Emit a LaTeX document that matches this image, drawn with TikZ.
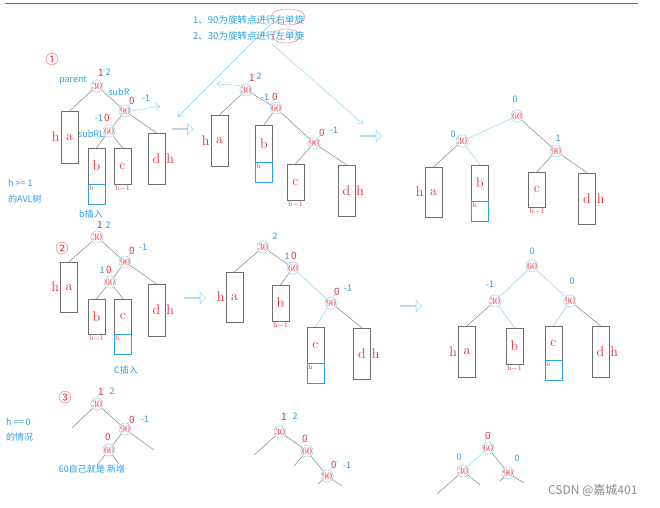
\documentclass[tikz,border=0pt]{standalone}
\usepackage{fontspec}
\newfontfamily\cjk{Noto Sans CJK SC}
\usetikzlibrary{arrows.meta,shapes.arrows,shapes.misc}
\definecolor{hblau}{RGB}{40,160,225}
\definecolor{kblau}{RGB}{130,200,240}
\definecolor{rot}{RGB}{238,45,55}
\definecolor{grau}{RGB}{110,110,110}

\begin{document}
\begin{tikzpicture}[x={(1pt,0)},y={(0,-1pt)},>={Straight Barb[length=4pt,width=7pt]},
  k/.style={circle,draw=kblau,text=rot,inner sep=0pt,minimum size=12pt,font=\fontsize{10}{10}\selectfont},
  kasten/.style={draw=grau,minimum width=17pt,inner sep=0pt,text=rot,font=\fontsize{14}{14}\selectfont},
  hk/.style={draw=hblau,minimum width=17pt,minimum height=20pt,inner sep=0pt,anchor=north},
  hs/.style={text=rot,inner sep=1pt,font=\fontsize{7}{7}\selectfont},
  bt/.style={text=hblau,inner sep=0pt,font=\cjk\fontsize{9}{10}\selectfont},
  rz/.style={text=rot,inner sep=0pt,font=\cjk\fontsize{10}{10}\selectfont},
  rs/.style={rz,strike out,draw=kblau,inner sep=.5pt},
  pf/.style={single arrow,draw=kblau,minimum height=21pt,minimum width=11pt,single arrow head extend=3pt,inner sep=0pt},
  lh/.style={label={[text=rot,inner sep=1pt,font=\fontsize{14}{14}\selectfont]left:h}},
  rh/.style={label={[text=rot,inner sep=1pt,font=\fontsize{14}{14}\selectfont]right:h}},
  uh/.style={label={[hs]below:h−1}},
  nix/.style={}]
  \useasboundingbox (0,0) rectangle (660,507);
  \draw[grau] (5,3)--(638,3);
  % Anleitung oben
  \node[bt,anchor=west,font=\cjk\fontsize{9.5}{10}\selectfont] (txt1) at (193,20) {1、90为旋转点进行右单旋};
  \node[bt,anchor=west,font=\cjk\fontsize{9.5}{10}\selectfont] (txt2) at (193,36) {2、30为旋转点进行左单旋};
  \draw[rot!70] (288,17) ellipse (17pt and 8pt);
  \draw[rot!70] (286,36) ellipse (14pt and 7pt);
  \coordinate (q1) at (271,24); \coordinate (q2) at (178,117);
  \coordinate (q3) at (272,44); \coordinate (q4) at (363,124);
  \draw[kblau,->] (q1)--(q2);
  \draw[kblau,->] (q3)--(q4);
  % Nummern und Texte links
  \foreach \n/\x/\y/\t in {n1/52/60/①,n2/62/249/②,n3/65/398/③}
    \node[rz,font=\cjk\fontsize{13}{13}\selectfont] (\n) at (\x,\y) {\t};
  \node[bt,anchor=west] (ha) at (8,183) {h >= 1};
  \node[bt,anchor=west] (hb) at (8,199) {的AVL树};
  \node[bt,anchor=west] (hc) at (6,422) {h == 0};
  \node[bt,anchor=west] (hd) at (6,437) {的情况};
  \node[bt] (par) at (73,80) {parent};
  \node[bt] (sr) at (119,92) {subR};
  \node[bt] (srl) at (91,134) {subRL};
  \node[bt] (bins) at (91,214) {b插入};
  \node[bt] (cins) at (126,370) {C插入};
  \node[bt] (neu) at (92,469) {60自己就是 新增};
  \node[text=grau!80,font=\cjk\fontsize{12}{12}\selectfont,anchor=east] (csdn) at (641,490) {CSDN @嘉城401};
  % Knoten
  \foreach \n/\x/\y/\t in {t30a/97/86/30,t90a/125/111/90,t60a/109/131/60,
    t30b/246/90/30,t60b/276/108/60,t90b/314/143/90,
    t60c/517/116/60,t30c/462/141/30,t90c/556/151/90,
    t30d/97/237/30,t90d/125/262/90,t60d/110/282/60,
    t30e/263/247/30,t60e/293/268/60,t90e/331/303/90,
    t60f/532/266/60,t30f/495/301/30,t90f/570/301/90,
    t30g/97/404/30,t90g/125/429/90,t60g/109/450/60,
    t30h/280/432/30,t60h/307/451/60,t90h/327/476/90,
    t60i/488/448/60,t30i/463/471/30,t90i/508/473/90}
    \node[k] (\n) at (\x,\y) {\t};
  % Teilbaeume
  \foreach \n/\x/\y/\hh/\t/\s in {a1/69.5/137/52/a/lh,b1/96.5/166/36/b/nix,c1/122.5/166/36/c/uh,d1/156.5/158.5/51/d/rh,
    a2/219.5/140.5/51/a/lh,b2/264/143.5/37/b/nix,c2/295.5/182/36/c/uh,d2/346.5/190.5/51/d/rh,
    a3/433.5/192/50/a/lh,b3/480/183/36/b/nix,c3/537/189.5/35/c/uh,d3/587/198.5/51/d/rh,
    a4/69/287/50/a/lh,b4/96.5/316.5/35/b/uh,c4/123/316.5/35/c/nix,d4/156.5/310/52/d/rh,
    a5/234.5/297/50/a/lh,b5/280.5/303/36/b/uh,c5/315.5/345/36/c/nix,d5/362/353.5/51/d/rh,
    a6/467/351.5/51/a/lh,b6/514.5/346/36/b/uh,c6/553.5/343/34/c/nix,d6/600.5/351.5/51/d/rh}
    \node[kasten,minimum height=\hh pt,\s] (\n) at (\x,\y) {\t};
  \foreach \n/\b in {h1/b1,h2/b2,h3/b3,h4/c4,h5/c5,h6/c6} {
    \node[hk] (\n) at (\b.south) {};
    \node[hs,anchor=north west] (t\n) at (\n.north west) {h};
  }
  % Kanten
  \foreach \a/\b in {t30a/a1.north,t30a/t90a,t90a/t60a,t90a/d1.north,t60a/b1.north,t60a/c1.north,
    t30b/a2.north,t30b/t60b,t60b/b2.north,t60b/t90b,t90b/c2.north,t90b/d2.north,
    t60c/t90c,t30c/a3.north,t90c/c3.north,t90c/d3.north,
    t30d/a4.north,t30d/t90d,t90d/t60d,t90d/d4.north,t60d/b4.north,t60d/c4.north,
    t30e/a5.north,t30e/t60e,t60e/b5.north,t90e/d5.north,
    t30f/a6.north,t90f/d6.north,t60i/t90i}
    \draw[grau] (\a)--(\b);
  \foreach \a/\b in {t60c/t30c,t30c/b3.north,t60e/t90e,t90e/c5.north,
    t60f/t30f,t60f/t90f,t30f/b6.north,t90f/c6.north,t60i/t30i}
    \draw[kblau] (\a)--(\b);
  % Fall h == 0
  \foreach \n/\x/\y in {s1/72/428,s2/154/450,s3/97/465,s4/119/464,
    s5/254/455,s6/294/466,s7/318/484,s8/342/486,
    s9/437/494,s10/480/485,s11/500/481,s12/524/483}
    \coordinate (\n) at (\x,\y);
  \foreach \a/\b in {t30g/s1,t90g/s2,t60g/s3,t60g/s4,t30g/t90g,t90g/t60g,
    t30h/s5,t60h/s6,t90h/s7,t90h/s8,t30h/t60h,t60h/t90h,
    t30i/s9,t30i/s10,t90i/s11,t90i/s12}
    \draw[grau] (\a)--(\b);
  % Balancefaktoren
  \foreach \x/\y/\t [count=\i] in {101/73/1,132/101/0,252/78/1,275/97/0,322/133/0,100/225/1,132/251/0,
    337/292/0,101/392/1,132/420/0,284/417/1,305/439/0,334/465/0,488/436/0}
    \node[rs] (r\i) at (\x,\y) {\t};
  \foreach \x/\y/\t [count=\i] in {107/118/0,109/270/0,294/256/0,108/437/0}
    \node[rz] (z\i) at (\x,\y) {\t};
  \foreach \x/\y/\t [count=\i] in {108/72/2,146/98/-1,99/118/-1,259/76/2,265/97/-1,334/130/-1,
    515/99/0,453/134/0,558/138/1,108/225/2,143/247/-1,102/270/1,275/236/2,287/256/1,348/288/-1,
    532/251/0,490/284/-1,572/281/0,112/391/2,145/419/-1,295/416/2,347/465/-1,459/457/0,517/458/0}
    \node[bt] (b\i) at (\x,\y) {\t};
  % Pfeile
  \foreach \n/\x/\y in {pf1/182.5/129,pf2/371/136,pf3/195/298,pf4/411/306}
    \node[pf] (\n) at (\x,\y) {};
  \coordinate (pr) at (160,106); \coordinate (pl) at (217,84);
  \draw[kblau,->] (t90a.east)--(pr);
  \draw[kblau,->] (t30b.north west)--(pl);
\end{tikzpicture}
\end{document}
